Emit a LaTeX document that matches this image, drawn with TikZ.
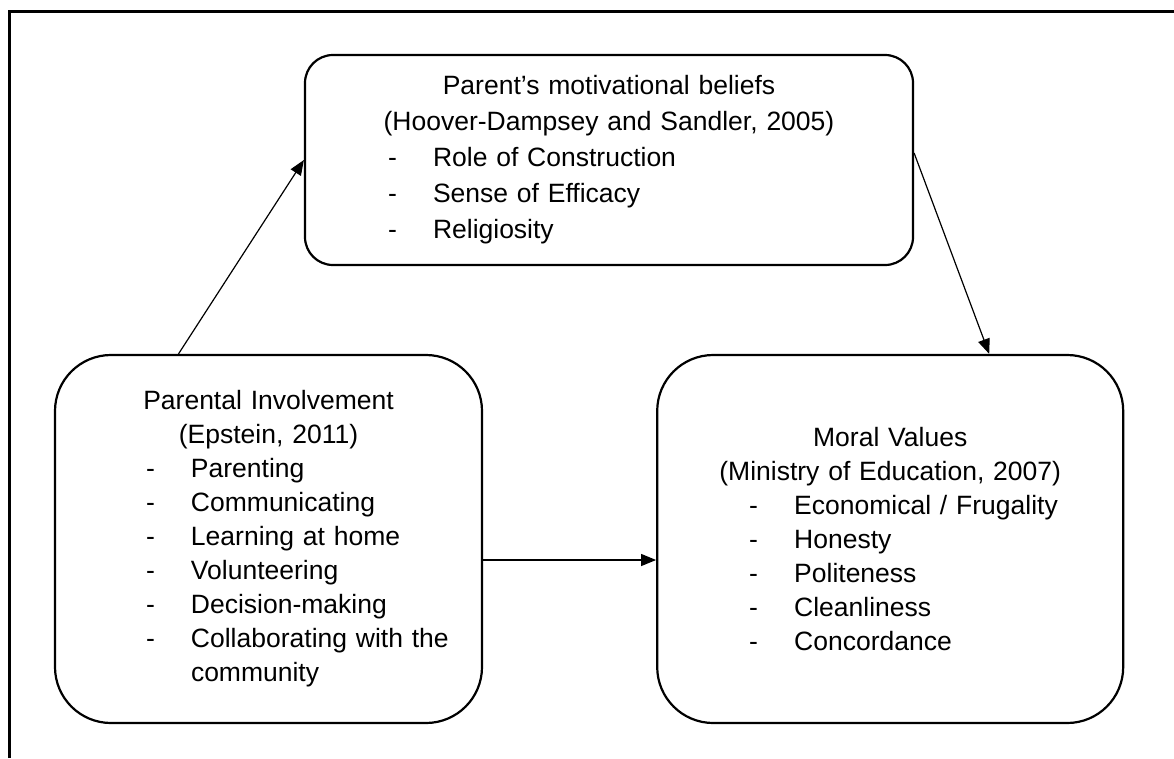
\documentclass[tikz,border=0pt]{standalone}
\usepackage{fontspec}
\setmainfont{Liberation Sans}
\usetikzlibrary{positioning, arrows.meta}

% centred heading line and dashed list line inside a box
\newcommand{\boxhead}[1]{\makebox[\hsize][c]{#1}}
\newcommand{\boxitem}[2]{\hspace*{#1}\makebox[45pt][l]{-}#2}

\begin{document}
\begin{tikzpicture}[x=1pt, y=-1pt,
    conceptbox/.style={draw, line width=2.2pt, rounded corners=56pt, inner sep=0pt,
      text width=#1, align=left, font=\fontsize{26.5}{34}\selectfont},
    link/.style={-{Triangle[length=15pt, width=12pt]}, line width=1.2pt}]
    \useasboundingbox (0,0) rectangle (1174,758);
    % page frame
    \draw[line width=3pt] (9,758) -- (9,11) -- (1174,11);

    \node[conceptbox=427pt, minimum height=368pt] (involve) at (268.5,539)
      {\boxhead{Parental Involvement}\\
       \boxhead{(Epstein, 2011)}\\
       \boxitem{91pt}{Parenting}\\
       \boxitem{91pt}{Communicating}\\
       \boxitem{91pt}{Learning at home}\\
       \boxitem{91pt}{Volunteering}\\
       \boxitem{91pt}{Decision-making}\\
       \boxitem{91pt}{Collaborating with the}\\
       \hspace*{136pt}community};
    \node[conceptbox=466pt, minimum height=368pt, right=173pt of involve] (values)
      {\boxhead{Moral Values}\\
       \boxhead{(Ministry of Education, 2007)}\\
       \boxitem{92pt}{Economical / Frugality}\\
       \boxitem{92pt}{Honesty}\\
       \boxitem{92pt}{Politeness}\\
       \boxitem{92pt}{Cleanliness}\\
       \boxitem{92pt}{Concordance}};
    \node[conceptbox=608pt, minimum height=210pt, rounded corners=28pt,
          font=\fontsize{26.5}{36}\selectfont] (beliefs) at (609,160)
      {\boxhead{Parent’s motivational beliefs}\\
       \boxhead{(Hoover-Dampsey and Sandler, 2005)}\\
       \boxitem{83pt}{Role of Construction}\\
       \boxitem{83pt}{Sense of Efficacy}\\
       \boxitem{83pt}{Religiosity}};

    \draw[link] ([xshift=-90pt]involve.north) -- (beliefs.west);
    \draw[link] ([yshift=7pt]beliefs.east) -- ([xshift=99pt]values.north);
    \draw[link] ([yshift=-21pt]involve.east) -- ([yshift=-21pt]values.west);
  \end{tikzpicture}
\end{document}
